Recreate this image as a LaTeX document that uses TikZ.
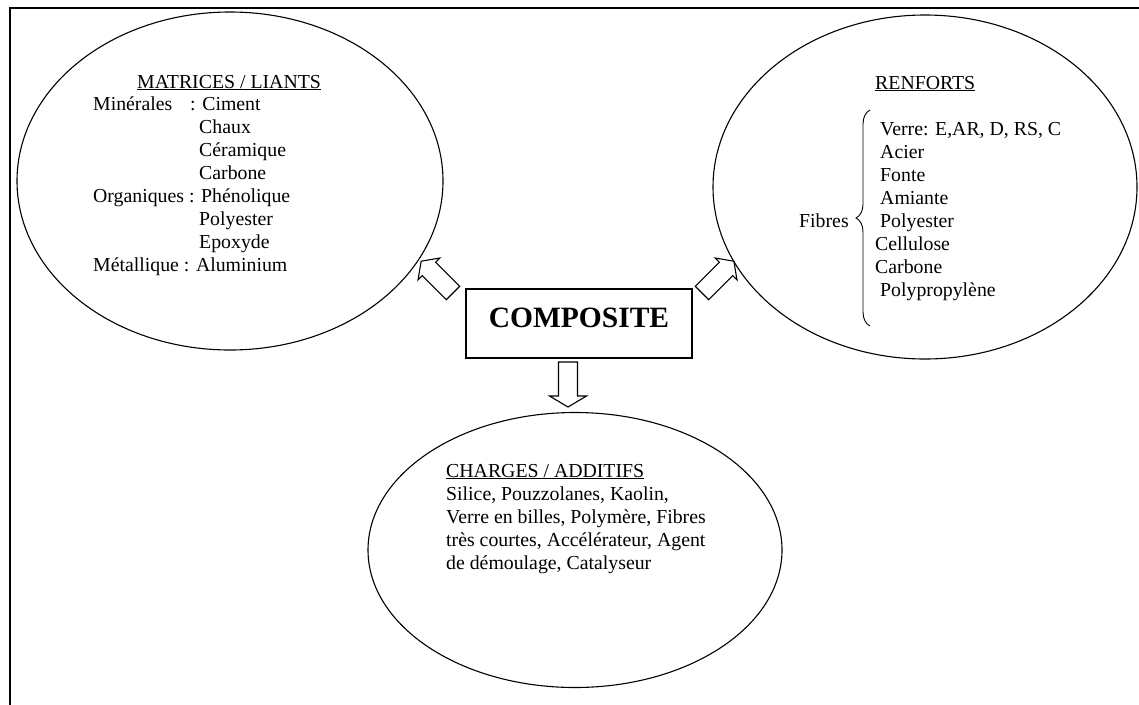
\documentclass[tikz,border=0pt]{standalone}
\usepackage{fontspec}
\setmainfont{Liberation Serif}
\usetikzlibrary{shapes.geometric,decorations.pathreplacing}
\begin{document}
\begin{tikzpicture}[x=1pt,y=-1pt,
  frame/.style={line width=2pt},
  bubble/.style={draw, ellipse, line width=1.1pt, inner sep=0pt},
  txt/.style={anchor=base west, inner sep=0pt, font=\fontsize{19.8}{23}\selectfont},
  pics/barrow/.style={code={
    \draw[line width=1.1pt, fill=white, line join=miter]
      (0,-9.5) -- (34,-9.5) -- (34,-#1) -- (45,0) -- (34,#1) -- (34,9.5) -- (0,9.5) -- cycle;}}
]
\clip (0,0) rectangle (1139,704);
% page frame
\draw[frame] (1160,8) -- (10,8) -- (10,720);

% the three groups of constituents
\node[bubble, minimum width=426pt, minimum height=338pt] (matrices) at (230,181) {};
\node[bubble, minimum width=424pt, minimum height=344pt] (renforts) at (925,187) {};
\node[bubble, minimum width=414pt, minimum height=275pt] (charges) at (575,550) {};

% central box
\node[draw, line width=1.8pt, minimum width=226pt, minimum height=69pt, inner sep=0pt,
      text height=20pt, text depth=13pt,
      font=\fontsize{29.5}{30}\selectfont\bfseries] (composite) at (579,323.5) {COMPOSITE};

% block arrows from the box to each group
\pic[rotate=135] (toMat) at (453,293) {barrow=15.5};
\pic[rotate=45] (toRen) at (702,293) {barrow=15.5};
\pic[rotate=-90] (toCha) at (568,362) {barrow=18.5};

% matrices / liants
\node[txt] (mt) at (137,88) {\underline{MATRICES / LIANTS}};
\node[txt] (m1) at (93,110) {Minérales};
\node[txt] (m1b) at (190,110) {: Ciment};
\node[txt] (m2) at (199,133) {Chaux};
\node[txt] (m3) at (199,156) {Céramique};
\node[txt] (m4) at (199,179) {Carbone};
\node[txt] (m5) at (93,202) {Organiques : Phénolique};
\node[txt] (m6) at (199,225) {Polyester};
\node[txt] (m7) at (199,248) {Epoxyde};
\node[txt] (m8) at (93,271) {Métallique : Aluminium};

% renforts
\node[txt] (rt) at (875,89) {\underline{RENFORTS}};
\coordinate (bt) at (870,110);
\coordinate (bb) at (870,326);
\draw[line width=0.9pt, decorate, decoration={brace, amplitude=14pt}] (bb) -- (bt);
\node[txt] (fib) at (799,227) {Fibres};
\node[txt] (r1) at (880,135) {Verre: E,AR, D, RS, C};
\node[txt] (r2) at (880,158) {Acier};
\node[txt] (r3) at (880,181) {Fonte};
\node[txt] (r4) at (880,204) {Amiante};
\node[txt] (r5) at (880,227) {Polyester};
\node[txt] (r6) at (875,250) {Cellulose};
\node[txt] (r7) at (875,273) {Carbone};
\node[txt] (r8) at (880,296) {Polypropylène};

% charges / additifs
\node[txt] (ct) at (446,477) {\underline{CHARGES / ADDITIFS}};
\node[txt] (c1) at (446,500) {Silice, Pouzzolanes, Kaolin,};
\node[txt] (c2) at (446,523) {Verre en billes, Polymère, Fibres};
\node[txt] (c3) at (446,546) {très courtes, Accélérateur, Agent};
\node[txt] (c4) at (446,569) {de démoulage, Catalyseur};
\end{tikzpicture}
\end{document}
